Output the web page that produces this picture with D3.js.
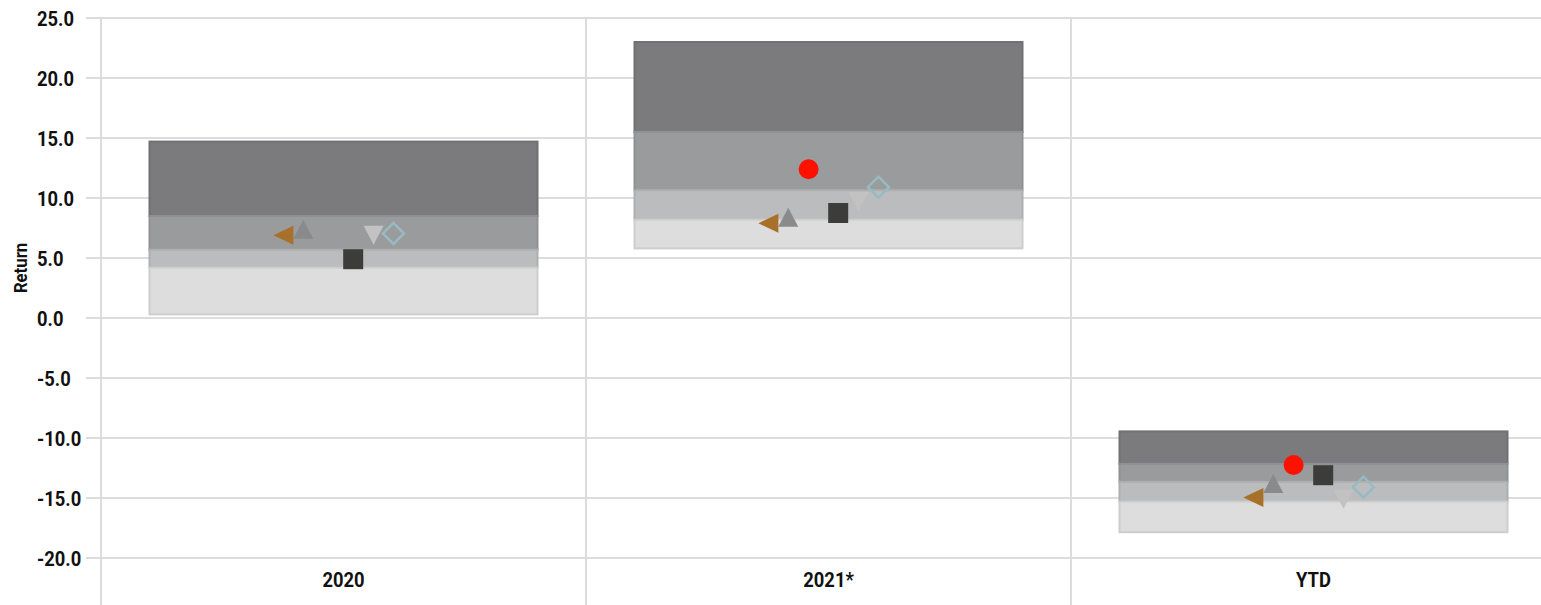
<!DOCTYPE html>
<html>
<head>
<meta charset="utf-8">
<script src="https://cdn.jsdelivr.net/npm/d3@7"></script>
<style>
  html, body { margin: 0; padding: 0; background: #ffffff; }
  svg { display: block; }
  text { font-family: Roboto, "Liberation Sans", sans-serif; font-weight: 700; fill: #111111; }
</style>
</head>
<body>
<svg id="chart" width="1541" height="605"></svg>
<script>
// ---------------- DATA ----------------
const categories = ["2020", "2021*", "YTD"];
const yTicks = [25, 20, 15, 10, 5, 0, -5, -10, -15, -20];

// Percentile band edges (top -> bottom)
const bandTop    = [14.7, 23.0, -9.45];
const bandQ1     = [8.5, 15.5, -12.15];
const bandMedian = [5.7, 10.65, -13.65];
const bandQ3     = [4.2, 8.2, -15.3];
const bandBottom = [0.3, 5.8, -17.85];

// Marker series
const seriesLeftTri  = [6.9, 7.9, -14.95];
const seriesUpTri    = [7.4, 8.4, -13.8];
const seriesDownTri  = [6.9, 9.7, -15.1];
const seriesCircle   = [null, 12.4, -12.25];
const seriesSquare   = [4.9, 8.75, -13.1];
const seriesDiamond  = [7.05, 10.9, -14.1];

// ---------------- LAYOUT ----------------
const W = 1541, H = 605;
const plot = { left: 101, right: 1556, top: 18, bottom: 558 };
const svg = d3.select("#chart");
const SX = 0.92; // condensed look

const x = d3.scaleBand().domain(categories).range([plot.left, plot.right]).padding(0);
const y = d3.scaleLinear().domain([-20, 25]).range([plot.bottom, plot.top]);
const bw = x.bandwidth();
const cx = c => x(c) + bw / 2;

// gridlines (horizontal)
svg.append("g").selectAll("line").data(yTicks).join("line")
  .attr("x1", plot.left - 15).attr("x2", W)
  .attr("y1", d => y(d)).attr("y2", d => y(d))
  .attr("stroke", "#dcdcdc").attr("stroke-width", 2);

// vertical category separators
svg.append("g").selectAll("line").data(categories).join("line")
  .attr("x1", d => x(d)).attr("x2", d => x(d))
  .attr("y1", plot.top).attr("y2", H)
  .attr("stroke", "#dcdcdc").attr("stroke-width", 2);

// y tick labels
svg.append("g").selectAll("text").data(yTicks).join("text")
  .attr("transform", d => `translate(37,${y(d) + 7.5}) scale(${SX},1)`)
  .attr("font-size", 20)
  .attr("text-anchor", "start")
  .text(d => d.toFixed(1));

// y axis title
svg.append("text")
  .attr("transform", `translate(27,268) rotate(-90) scale(0.88,1)`)
  .attr("text-anchor", "middle")
  .attr("font-size", 19)
  .text("Return");

// x labels
svg.append("g").selectAll("text").data(categories).join("text")
  .attr("transform", d => `translate(${cx(d)},587) scale(${SX},1)`)
  .attr("text-anchor", "middle")
  .attr("font-size", 20)
  .text(d => d);

// ---------------- BANDS ----------------
const bandLayers = [
  { hi: bandTop,    lo: bandQ1,     fill: "#7b7b7d", stroke: "#717173" },
  { hi: bandQ1,     lo: bandMedian, fill: "#9a9b9d", stroke: "#8f9092" },
  { hi: bandMedian, lo: bandQ3,     fill: "#bbbcbe", stroke: "#adaeb0" },
  { hi: bandQ3,     lo: bandBottom, fill: "#dddddd", stroke: "#cdcdcd" }
];
const barW = bw * 0.8;
const gBands = svg.append("g");
bandLayers.forEach(layer => {
  gBands.append("g").selectAll("rect").data(categories).join("rect")
    .attr("x", d => cx(d) - barW / 2)
    .attr("width", barW)
    .attr("y", (d, i) => y(layer.hi[i]))
    .attr("height", (d, i) => y(layer.lo[i]) - y(layer.hi[i]))
    .attr("fill", layer.fill)
    .attr("stroke", layer.stroke)
    .attr("stroke-width", 2);
});

// ---------------- MARKERS ----------------
const shapes = {
  leftTri: (px, py) => `M${px + 10},${py - 9.5}L${px + 10},${py + 9.5}L${px - 10},${py}Z`,
  upTri:   (px, py) => `M${px - 10},${py + 9.5}L${px},${py - 9.5}L${px + 10},${py + 9.5}Z`,
  downTri: (px, py) => `M${px - 10},${py - 9.5}L${px + 10},${py - 9.5}L${px},${py + 9.5}Z`,
  square:  (px, py) => `M${px - 10},${py - 10}h20v20h-20Z`,
  circle:  (px, py) => `M${px - 10},${py}a10,10 0 1,0 20,0a10,10 0 1,0 -20,0Z`,
  diamond: (px, py) => `M${px},${py - 10.5}L${px + 10.5},${py}L${px},${py + 10.5}L${px - 10.5},${py}Z`
};
const markerSeries = [
  { vals: seriesLeftTri, shape: "leftTri", k: -0.124, fill: "#a8712a", stroke: "none" },
  { vals: seriesUpTri,   shape: "upTri",   k: -0.083, fill: "#8a8a8a", stroke: "none" },
  { vals: seriesCircle,  shape: "circle",  k: -0.041, fill: "#ff1100", stroke: "none" },
  { vals: seriesSquare,  shape: "square",  k:  0.020, fill: "#3c3c3a", stroke: "none" },
  { vals: seriesDownTri, shape: "downTri", k:  0.062, fill: "#c2c2c2", stroke: "none" },
  { vals: seriesDiamond, shape: "diamond", k:  0.103, fill: "none", stroke: "#97bac3" }
];
const gM = svg.append("g");
markerSeries.forEach(s => {
  const pts = categories.map((c, i) => ({ c, v: s.vals[i] })).filter(p => p.v != null);
  gM.append("g").selectAll("path").data(pts).join("path")
    .attr("d", p => shapes[s.shape](cx(p.c) + bw * s.k, y(p.v)))
    .attr("fill", s.fill)
    .attr("stroke", s.stroke)
    .attr("stroke-width", s.stroke === "none" ? 0 : 2.5);
});
</script>
</body>
</html>
